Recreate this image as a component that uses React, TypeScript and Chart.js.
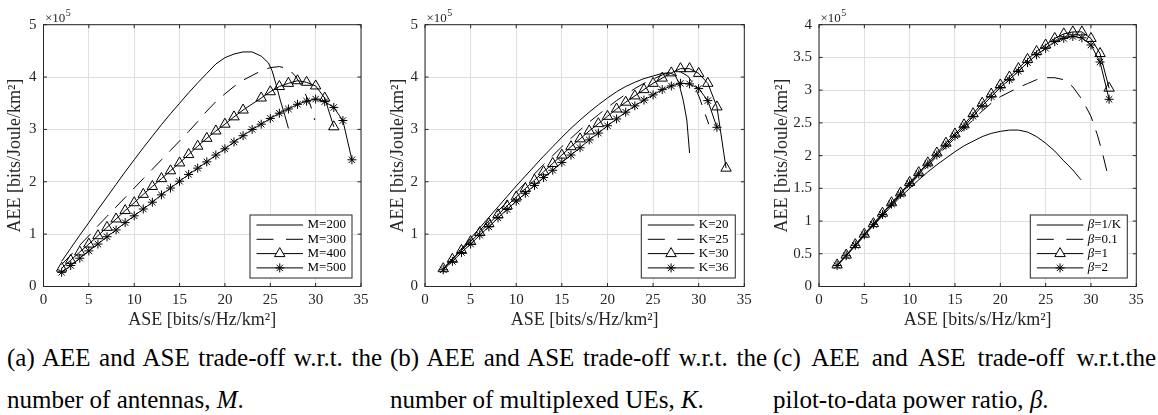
import React, { useEffect, useRef } from 'react';
import { Chart, registerables } from 'chart.js';

Chart.register(...registerables);

const FONT = '"Liberation Serif", Tinos, "Times New Roman", Times, "DejaVu Serif", serif';
const TEXT = '#262626';
const GRID = '#dfdfdf';

// ---------- shared axes ----------
const xTickVals = [0, 5, 10, 15, 20, 25, 30, 35];
const yTickValsAB = [0, 1, 2, 3, 4, 5];
const yTickValsC = [0, 0.5, 1, 1.5, 2, 2.5, 3, 3.5, 4];
const xTitle = 'ASE [bits/s/Hz/km²]';
const yTitle = 'AEE [bits/Joule/km²]';

// ---------- panel (a): AEE (x10^5) vs ASE, number of antennas M ----------
const aseM200 = [2, 3, 4, 5, 6, 7, 8, 9, 10, 11, 12, 13, 14, 15, 16, 17, 18, 19, 20, 21, 22, 23, 24, 24.8, 25.2, 25.6, 26.1, 26.6, 27];
const aeeM200 = [0.48, 0.73, 0.98, 1.22, 1.47, 1.71, 1.95, 2.19, 2.42, 2.65, 2.87, 3.09, 3.3, 3.5, 3.7, 3.89, 4.07, 4.25, 4.37, 4.44, 4.48, 4.48, 4.4, 4.27, 4.12, 3.88, 3.56, 3.27, 3.02];
const aseM300 = [2, 3, 4, 5, 6, 7, 8, 9, 10, 11, 12, 13, 14, 15, 16, 17, 18, 19, 20, 21, 22, 23, 24, 25, 26, 27, 27.7, 28.3, 28.8, 29.4, 29.9];
const aeeM300 = [0.42, 0.6, 0.79, 0.97, 1.16, 1.34, 1.52, 1.7, 1.88, 2.06, 2.24, 2.42, 2.6, 2.78, 2.96, 3.15, 3.35, 3.53, 3.68, 3.82, 3.94, 4.03, 4.12, 4.18, 4.2, 4.16, 4.03, 3.88, 3.7, 3.48, 3.18];
const aseM400 = [2, 3, 4, 5, 6, 7, 8, 9, 10, 11, 12, 13, 14, 15, 16, 17, 18, 19, 20, 21, 22, 24, 25, 26, 27, 28, 29, 30, 31, 32];
const aeeM400 = [0.35, 0.5, 0.66, 0.81, 0.97, 1.13, 1.29, 1.45, 1.6, 1.76, 1.91, 2.06, 2.21, 2.36, 2.52, 2.68, 2.83, 2.97, 3.1, 3.24, 3.37, 3.6, 3.72, 3.82, 3.88, 3.93, 3.9, 3.83, 3.6, 3.05];
const aseM500 = [2, 3, 4, 5, 6, 7, 8, 9, 10, 11, 12, 13, 14, 15, 16, 17, 18, 19, 20, 21, 22, 23, 24, 25, 26, 27, 28, 29, 30, 31, 32, 33, 34];
const aeeM500 = [0.27, 0.4, 0.54, 0.68, 0.81, 0.95, 1.08, 1.22, 1.35, 1.48, 1.61, 1.75, 1.88, 2.01, 2.14, 2.26, 2.38, 2.51, 2.63, 2.76, 2.88, 3.0, 3.1, 3.21, 3.31, 3.39, 3.48, 3.54, 3.58, 3.53, 3.42, 3.17, 2.42];
const legendA = ['M=200', 'M=300', 'M=400', 'M=500'];

// ---------- panel (b): number of multiplexed UEs K ----------
const aseK20 = [2, 3, 4, 5, 6, 7, 8, 9, 10, 11, 12, 13, 14, 15, 16, 17, 18, 19, 20, 21, 22, 23, 24, 25, 26, 26.8, 27.4, 27.8, 28.3, 28.7, 29];
const aeeK20 = [0.33, 0.52, 0.72, 0.92, 1.12, 1.32, 1.52, 1.72, 1.92, 2.11, 2.3, 2.49, 2.67, 2.85, 3.02, 3.18, 3.33, 3.47, 3.6, 3.72, 3.82, 3.9, 3.97, 4.02, 4.07, 4.08, 4.04, 3.9, 3.56, 3.18, 2.55];
const aseK25 = [2, 3, 4, 5, 6, 7, 8, 9, 10, 11, 12, 13, 14, 15, 16, 17, 18, 19, 20, 21, 22, 23, 24, 25, 26, 27, 28, 28.8, 29.5, 30.1, 30.6, 31.1];
const aeeK25 = [0.34, 0.53, 0.71, 0.89, 1.07, 1.25, 1.44, 1.62, 1.8, 1.98, 2.15, 2.33, 2.5, 2.67, 2.83, 2.99, 3.14, 3.28, 3.42, 3.55, 3.67, 3.78, 3.88, 3.96, 4.04, 4.1, 4.1, 4.02, 3.85, 3.6, 3.35, 3.1];
const aseK30 = [2, 3, 4, 5, 6, 7, 8, 9, 10, 11, 12, 13, 14, 15, 16, 17, 18, 19, 20, 21, 22, 23, 24, 25, 26, 27, 28, 29, 30, 31, 32, 33];
const aeeK30 = [0.34, 0.52, 0.69, 0.86, 1.03, 1.2, 1.37, 1.54, 1.71, 1.87, 2.03, 2.19, 2.35, 2.51, 2.67, 2.82, 2.97, 3.11, 3.25, 3.39, 3.52, 3.64, 3.76, 3.88, 3.98, 4.08, 4.16, 4.16, 4.07, 3.88, 3.43, 2.26];
const aseK36 = [2, 3, 4, 5, 6, 7, 8, 9, 10, 11, 12, 13, 14, 15, 16, 17, 18, 19, 20, 21, 22, 23, 24, 25, 26, 27, 28, 29, 30, 31, 32];
const aeeK36 = [0.32, 0.48, 0.65, 0.81, 0.98, 1.14, 1.31, 1.47, 1.63, 1.78, 1.93, 2.08, 2.22, 2.37, 2.51, 2.65, 2.8, 2.93, 3.07, 3.2, 3.33, 3.45, 3.56, 3.66, 3.76, 3.83, 3.88, 3.87, 3.78, 3.55, 3.04];
const legendB = ['K=20', 'K=25', 'K=30', 'K=36'];

// ---------- panel (c): pilot-to-data power ratio beta ----------
const aseB1K = [2, 3, 4, 5, 6, 7, 8, 9, 10, 11, 12, 13, 14, 15, 16, 17, 18, 19, 20, 21, 22, 23, 24, 25, 26, 27, 28, 28.9];
const aeeB1K = [0.32, 0.47, 0.62, 0.78, 0.93, 1.08, 1.23, 1.37, 1.5, 1.63, 1.75, 1.86, 1.96, 2.06, 2.15, 2.22, 2.29, 2.34, 2.37, 2.39, 2.39, 2.36, 2.29, 2.19, 2.07, 1.92, 1.78, 1.63];
const aseB01 = [2, 3, 4, 5, 6, 7, 8, 9, 10, 11, 12, 13, 14, 15, 16, 17, 18, 19, 20, 21, 22, 23, 24, 25, 26, 27, 28, 29, 30, 30.7, 31.3, 31.9];
const aeeB01 = [0.32, 0.47, 0.62, 0.78, 0.94, 1.09, 1.24, 1.4, 1.55, 1.7, 1.84, 1.99, 2.13, 2.27, 2.41, 2.55, 2.68, 2.8, 2.9, 2.97, 3.04, 3.1, 3.16, 3.19, 3.19, 3.16, 3.05, 2.86, 2.6, 2.32, 2.02, 1.68];
const aseB1 = [2, 3, 4, 5, 6, 7, 8, 9, 10, 11, 12, 13, 14, 15, 16, 17, 18, 19, 20, 21, 22, 23, 24, 25, 26, 27, 28, 29, 30, 31, 32];
const aeeB1 = [0.33, 0.48, 0.64, 0.8, 0.96, 1.12, 1.28, 1.43, 1.59, 1.74, 1.89, 2.04, 2.19, 2.33, 2.47, 2.64, 2.8, 2.94, 3.08, 3.2, 3.33, 3.47, 3.59, 3.69, 3.79, 3.86, 3.89, 3.89, 3.79, 3.56, 3.03];
const aseB2 = [2, 3, 4, 5, 6, 7, 8, 9, 10, 11, 12, 13, 14, 15, 16, 17, 18, 19, 20, 21, 22, 23, 24, 25, 26, 27, 28, 29, 30, 31, 32];
const aeeB2 = [0.32, 0.47, 0.63, 0.79, 0.95, 1.1, 1.26, 1.41, 1.57, 1.72, 1.87, 2.01, 2.16, 2.3, 2.44, 2.6, 2.76, 2.9, 3.04, 3.16, 3.29, 3.42, 3.54, 3.64, 3.74, 3.79, 3.82, 3.8, 3.69, 3.43, 2.86];
const legendC = ['β=1/K', 'β=0.1', 'β=1', 'β=2'];

// ---------- captions ----------
const captionsLine1 = [
  '(a) AEE and ASE trade-off w.r.t. the',
  '(b) AEE and ASE trade-off w.r.t. the',
  '(c) AEE and ASE trade-off w.r.t.the',
];
const captionsLine2 = [
  ['number of antennas, ', 'M', '.'],
  ['number of multiplexed UEs, ', 'K', '.'],
  ['pilot-to-data power ratio, ', 'β', '.'],
];

type Kind = 'solid' | 'dash' | 'tri' | 'star';
const kinds: Kind[] = ['solid', 'dash', 'tri', 'star'];

const makeDataset = (xs: number[], ys: number[], kind: Kind) => ({
  data: xs.map((x, i) => ({ x, y: ys[i] })),
  borderColor: '#000',
  borderWidth: 1,
  backgroundColor: 'rgba(0,0,0,0)',
  borderDash: kind === 'dash' ? [16, 10] : [],
  pointStyle: kind === 'tri' ? 'triangle' : kind === 'star' ? 'star' : 'circle',
  pointRadius: kind === 'tri' ? 6 : kind === 'star' ? 4.5 : 0,
  pointBorderColor: '#000',
  pointBorderWidth: 1,
  pointBackgroundColor: 'rgba(0,0,0,0)',
  tension: 0,
  fill: false,
});

const drawMarker = (ctx: CanvasRenderingContext2D, kind: Kind, x: number, y: number) => {
  ctx.beginPath();
  if (kind === 'tri') {
    const r = 6;
    ctx.moveTo(x, y - r);
    ctx.lineTo(x + r * Math.sin((2 * Math.PI) / 3), y - r * Math.cos((2 * Math.PI) / 3));
    ctx.lineTo(x + r * Math.sin((4 * Math.PI) / 3), y - r * Math.cos((4 * Math.PI) / 3));
    ctx.closePath();
    ctx.fillStyle = '#fff';
    ctx.fill();
    ctx.stroke();
  } else if (kind === 'star') {
    const r = 4.5;
    for (let k = 0; k < 4; k++) {
      const a = (k * Math.PI) / 4;
      ctx.moveTo(x - r * Math.cos(a), y - r * Math.sin(a));
      ctx.lineTo(x + r * Math.cos(a), y + r * Math.sin(a));
    }
    ctx.stroke();
  }
};

const matlabAxes = {
  id: 'matlabAxes',
  afterDraw(chart: any, _args: any, opts: any) {
    const { ctx, chartArea, scales } = chart;
    const { left, right, top, bottom } = chartArea;
    ctx.save();
    ctx.strokeStyle = TEXT;
    ctx.lineWidth = 1;
    ctx.setLineDash([]);
    const tl = 3.5;
    ctx.beginPath();
    scales.x.ticks.forEach((t: any) => {
      const px = scales.x.getPixelForValue(t.value);
      ctx.moveTo(px, bottom);
      ctx.lineTo(px, bottom - tl);
      ctx.moveTo(px, top);
      ctx.lineTo(px, top + tl);
    });
    scales.y.ticks.forEach((t: any) => {
      const py = scales.y.getPixelForValue(t.value);
      ctx.moveTo(left, py);
      ctx.lineTo(left + tl, py);
      ctx.moveTo(right, py);
      ctx.lineTo(right - tl, py);
    });
    ctx.stroke();
    ctx.strokeRect(left, top, right - left, bottom - top);

    // exponent label
    ctx.fillStyle = TEXT;
    ctx.textAlign = 'left';
    ctx.textBaseline = 'alphabetic';
    ctx.font = `13px ${FONT}`;
    ctx.fillText('×10', left + 1.5, top - 2.5);
    const w = ctx.measureText('×10').width;
    ctx.font = `10px ${FONT}`;
    ctx.fillText('5', left + 2 + w, top - 9);

    // legend box
    const labels: string[] = opts.labels;
    const bw = opts.width;
    const bh = 63;
    const bx = right - 9 - bw;
    const by = bottom - 8.5 - bh;
    ctx.fillStyle = '#fff';
    ctx.fillRect(bx, by, bw, bh);
    ctx.strokeStyle = TEXT;
    ctx.strokeRect(bx, by, bw, bh);
    labels.forEach((label, i) => {
      const kind = kinds[i];
      const cy = by + 10 + i * 14.3;
      ctx.strokeStyle = '#000';
      ctx.lineWidth = 1;
      ctx.setLineDash(kind === 'dash' ? [17, 12.5] : []);
      ctx.beginPath();
      ctx.moveTo(bx + 6.5, cy);
      ctx.lineTo(bx + 53, cy);
      ctx.stroke();
      ctx.setLineDash([]);
      drawMarker(ctx, kind, bx + 29.75, cy);
      ctx.fillStyle = '#000';
      ctx.textBaseline = 'middle';
      let tx = bx + 57.5;
      let rest = label;
      if (rest.startsWith('β')) {
        ctx.font = `italic 13px ${FONT}`;
        ctx.fillText('β', tx, cy);
        tx += ctx.measureText('β').width;
        rest = rest.slice(1);
      }
      ctx.font = `13px ${FONT}`;
      ctx.fillText(rest, tx, cy);
    });
    ctx.restore();
  },
};

interface PanelProps {
  left: number;
  width: number;
  series: [number[], number[]][];
  yTicks: number[];
  yAxisWidth: number;
  yTitlePad: number;
  legendLabels: string[];
  legendWidth: number;
  rightPad: number;
}

const H = 340;

function Panel(p: PanelProps) {
  const ref = useRef<HTMLCanvasElement>(null);
  useEffect(() => {
    const yMax = p.yTicks[p.yTicks.length - 1];
    const chart = new Chart(ref.current as HTMLCanvasElement, {
      type: 'line',
      data: {
        datasets: p.series.map(([xs, ys], i) => makeDataset(xs, ys, kinds[i])) as any,
      },
      options: {
        animation: false,
        responsive: false,
        devicePixelRatio: 1,
        events: [],
        layout: { padding: { top: 24.7, right: p.rightPad, left: 0, bottom: 0 } },
        plugins: {
          legend: { display: false },
          tooltip: { enabled: false },
          matlabAxes: { labels: p.legendLabels, width: p.legendWidth },
        } as any,
        scales: {
          x: {
            type: 'linear',
            min: 0,
            max: 35,
            afterBuildTicks: (s: any) => {
              s.ticks = xTickVals.map((v) => ({ value: v }));
            },
            afterFit: (s: any) => {
              s.height = H - 286.5;
            },
            ticks: {
              autoSkip: false,
              maxRotation: 0,
              padding: 5,
              color: TEXT,
              font: { family: FONT, size: 15 },
              callback: (v: any) => String(v),
            },
            grid: { color: GRID, drawTicks: false, lineWidth: 1 },
            border: { display: false },
            title: {
              display: true,
              text: xTitle,
              color: TEXT,
              font: { family: FONT, size: 18 },
              padding: { top: 0, bottom: 9 },
            },
          },
          y: {
            type: 'linear',
            min: 0,
            max: yMax,
            afterBuildTicks: (s: any) => {
              s.ticks = p.yTicks.map((v) => ({ value: v }));
            },
            afterFit: (s: any) => {
              s.width = p.yAxisWidth;
            },
            ticks: {
              autoSkip: false,
              padding: 7,
              color: TEXT,
              font: { family: FONT, size: 15 },
              callback: (v: any) => String(v),
            },
            grid: { color: GRID, drawTicks: false, lineWidth: 1 },
            border: { display: false },
            title: {
              display: true,
              text: yTitle,
              color: TEXT,
              font: { family: FONT, size: 18 },
              padding: { top: p.yTitlePad, bottom: 0 },
            },
          },
        },
      },
      plugins: [matlabAxes as any],
    } as any);
    return () => chart.destroy();
  }, []);
  return (
    <canvas
      ref={ref}
      width={p.width}
      height={H}
      style={{ position: 'absolute', left: p.left, top: 0, width: p.width, height: H }}
    />
  );
}

const capBase: React.CSSProperties = {
  position: 'absolute',
  fontFamily: FONT,
  fontSize: 25,
  lineHeight: '25px',
  color: '#000',
};

const capCols = [
  { left: 7, width: 375 },
  { left: 390, width: 377 },
  { left: 773, width: 383 },
];

export default function App() {
  return (
    <div
      style={{
        position: 'absolute',
        left: 0,
        top: 0,
        width: 1158,
        height: 415,
        background: '#fff',
        overflow: 'hidden',
      }}
    >
      <Panel
        left={0}
        width={385}
        series={[[aseM200, aeeM200], [aseM300, aeeM300], [aseM400, aeeM400], [aseM500, aeeM500]]}
        yTicks={yTickValsAB}
        yAxisWidth={43.5}
        yTitlePad={4.5}
        legendLabels={legendA}
        legendWidth={102}
        rightPad={24}
      />
      <Panel
        left={385}
        width={385}
        series={[[aseK20, aeeK20], [aseK25, aeeK25], [aseK30, aeeK30], [aseK36, aeeK36]]}
        yTicks={yTickValsAB}
        yAxisWidth={40}
        yTitlePad={2.2}
        legendLabels={legendB}
        legendWidth={94}
        rightPad={25.7}
      />
      <Panel
        left={770}
        width={388}
        series={[[aseB1K, aeeB1K], [aseB01, aeeB01], [aseB1, aeeB1], [aseB2, aeeB2]]}
        yTicks={yTickValsC}
        yAxisWidth={49}
        yTitlePad={1.2}
        legendLabels={legendC}
        legendWidth={97}
        rightPad={21.7}
      />
      {capCols.map((c, i) => (
        <React.Fragment key={i}>
          <div
            style={{
              ...capBase,
              left: c.left,
              top: 345,
              width: c.width,
              textAlign: 'justify',
              textAlignLast: 'justify',
            }}
          >
            {captionsLine1[i]}
          </div>
          <div style={{ ...capBase, left: c.left, top: 387, whiteSpace: 'nowrap' }}>
            {captionsLine2[i][0]}
            <i>{captionsLine2[i][1]}</i>
            {captionsLine2[i][2]}
          </div>
        </React.Fragment>
      ))}
    </div>
  );
}
